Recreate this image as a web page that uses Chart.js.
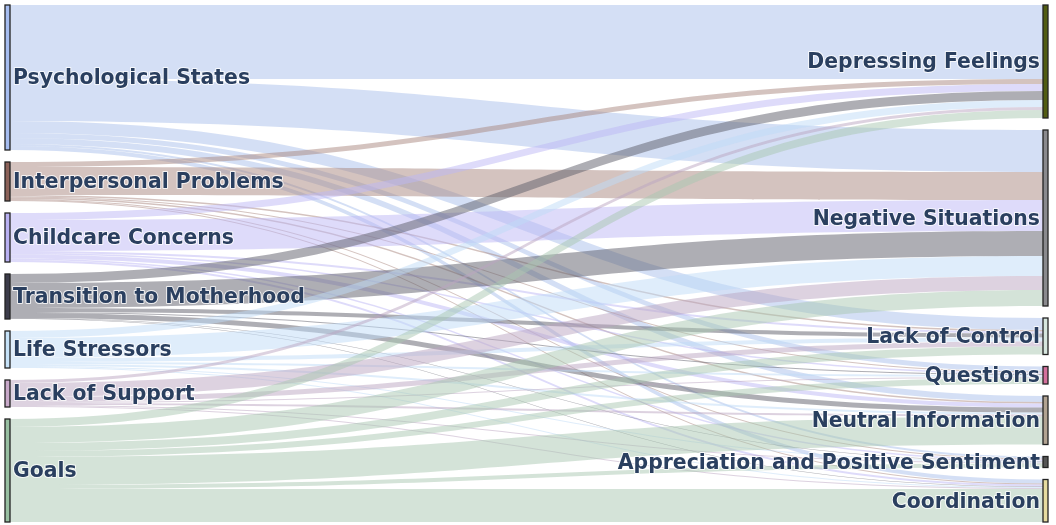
<!DOCTYPE html>
<html>
<head>
<meta charset="utf-8">
<script src="https://cdn.jsdelivr.net/npm/chart.js@4.4.1/dist/chart.umd.min.js"></script>
<style>
  html, body { margin: 0; padding: 0; background: #fff; }
  #wrap { width: 1056px; height: 525px; position: relative; }
</style>
</head>
<body>
<div id="wrap"><canvas id="sankey"></canvas></div>
<script>
/* Sankey: themes (left) -> message categories (right) */

const sources = ['Psychological States', 'Interpersonal Problems', 'Childcare Concerns',
  'Transition to Motherhood', 'Life Stressors', 'Lack of Support', 'Goals'];
const targets = ['Depressing Feelings', 'Negative Situations', 'Lack of Control', 'Questions',
  'Neutral Information', 'Appreciation and Positive Sentiment', 'Coordination'];

// one row per source, values in target order
const flowPsychological = [74, 42, 12, 5, 6, 2, 4];
const flowInterpersonal = [5, 28, 1.5, 1, 1.5, 1, 1];
const flowChildcare     = [7, 31, 2, 1.5, 4, 1.5, 2];
const flowTransition    = [9, 25, 4, 1, 5, 0.5, 0.5];
const flowLifeStress    = [7, 20, 4, 2, 2, 1, 1];
const flowLackSupport   = [3, 14, 5, 1, 2, 1, 1];
const flowGoals         = [8, 16, 8, 6, 28, 4, 33];

const flows = [flowPsychological, flowInterpersonal, flowChildcare, flowTransition,
  flowLifeStress, flowLackSupport, flowGoals];

const sourceColors = ['#a6bdf0', '#8c6259', '#b9b1f2', '#3c3c4a', '#c6e2f8', '#c8a9c9', '#98c0a2'];
const targetColors = ['#515c12', '#8a8a8e', '#d6e6de', '#d4709c', '#b2a392', '#555555', '#e6dba0'];
const linkColors = ['rgba(169,191,235,0.5)', 'rgba(169,135,127,0.5)', 'rgba(189,183,245,0.5)',
  'rgba(93,93,105,0.5)', 'rgba(191,219,247,0.5)', 'rgba(187,165,193,0.5)', 'rgba(169,199,177,0.5)'];

const NODE_PAD = 12;   // gap between nodes, in flow units
const NODE_W = 5;      // px

const sum = a => a.reduce((s, v) => s + v, 0);
const srcTotals = flows.map(sum);
const tgtTotals = targets.map((_, j) => sum(flows.map(r => r[j])));
const colHeight = t => sum(t) + NODE_PAD * (t.length - 1);
const maxH = Math.max(colHeight(srcTotals), colHeight(tgtTotals));

function stack(totals) {
  let y = (maxH - colHeight(totals)) / 2;
  return totals.map(t => { const n = { y0: y, y1: y + t }; y += t + NODE_PAD; return n; });
}
const srcNodes = stack(srcTotals);
const tgtNodes = stack(tgtTotals);

// link slots: at source ordered by target, at target ordered by source
const links = [];
const srcCursor = srcNodes.map(n => n.y0);
const tgtCursor = tgtNodes.map(n => n.y0);
flows.forEach((row, i) => row.forEach((v, j) => {
  if (!v) return;
  links.push({ s: i, t: j, v, sy: srcCursor[i], ty: 0 });
  srcCursor[i] += v;
}));
for (let j = 0; j < targets.length; j++) {
  links.filter(l => l.t === j).sort((a, b) => a.s - b.s).forEach(l => {
    l.ty = tgtCursor[j]; tgtCursor[j] += l.v;
  });
}

const sankeyPlugin = {
  id: 'sankey',
  afterDatasetsDraw(chart) {
    const { ctx, scales: { x, y } } = chart;
    const xl0 = x.getPixelForValue(0), xl1 = xl0 + NODE_W;
    const xr1 = x.getPixelForValue(1), xr0 = xr1 - NODE_W;
    const xm = (xl1 + xr0) / 2;
    ctx.save();

    links.forEach(l => {
      const a0 = y.getPixelForValue(l.sy), a1 = y.getPixelForValue(l.sy + l.v);
      const b0 = y.getPixelForValue(l.ty), b1 = y.getPixelForValue(l.ty + l.v);
      ctx.beginPath();
      ctx.moveTo(xl1, a0);
      ctx.bezierCurveTo(xm, a0, xm, b0, xr0, b0);
      ctx.lineTo(xr0, b1);
      ctx.bezierCurveTo(xm, b1, xm, a1, xl1, a1);
      ctx.closePath();
      ctx.fillStyle = linkColors[l.s];
      ctx.fill();
    });

    const drawNode = (n, x0, color) => {
      const top = y.getPixelForValue(n.y0), bot = y.getPixelForValue(n.y1);
      ctx.fillStyle = color;
      ctx.fillRect(x0, top, NODE_W, bot - top);
      ctx.strokeStyle = '#222';
      ctx.lineWidth = 1.3;
      ctx.strokeRect(x0, top, NODE_W, bot - top);
    };
    srcNodes.forEach((n, i) => drawNode(n, xl0, sourceColors[i]));
    tgtNodes.forEach((n, j) => drawNode(n, xr0, targetColors[j]));

    ctx.font = 'bold 20.4px "DejaVu Sans", Verdana, sans-serif';
    ctx.textBaseline = 'middle';
    ctx.lineJoin = 'round';
    const label = (txt, px, py, align) => {
      ctx.textAlign = align;
      ctx.strokeStyle = 'rgba(255,255,255,0.8)';
      ctx.lineWidth = 2;
      ctx.strokeText(txt, px, py);
      ctx.fillStyle = '#2a3f5f';
      ctx.fillText(txt, px, py);
    };
    srcNodes.forEach((n, i) =>
      label(sources[i], xl1 + 3, y.getPixelForValue((n.y0 + n.y1) / 2) + 1.5, 'left'));
    tgtNodes.forEach((n, j) =>
      label(targets[j], xr0 - 3, y.getPixelForValue((n.y0 + n.y1) / 2) + 1.5, 'right'));
    ctx.restore();
  }
};

new Chart(document.getElementById('sankey'), {
  type: 'scatter',
  data: { datasets: [{ data: [] }] },
  options: {
    responsive: true,
    maintainAspectRatio: false,
    animation: false,
    layout: { padding: { left: 5, right: 8, top: 5, bottom: 3 } },
    plugins: { legend: { display: false }, tooltip: { enabled: false } },
    scales: {
      x: { type: 'linear', min: 0, max: 1, display: false },
      y: { type: 'linear', min: 0, max: maxH, reverse: true, display: false }
    }
  },
  plugins: [sankeyPlugin]
});
</script>
</body>
</html>
